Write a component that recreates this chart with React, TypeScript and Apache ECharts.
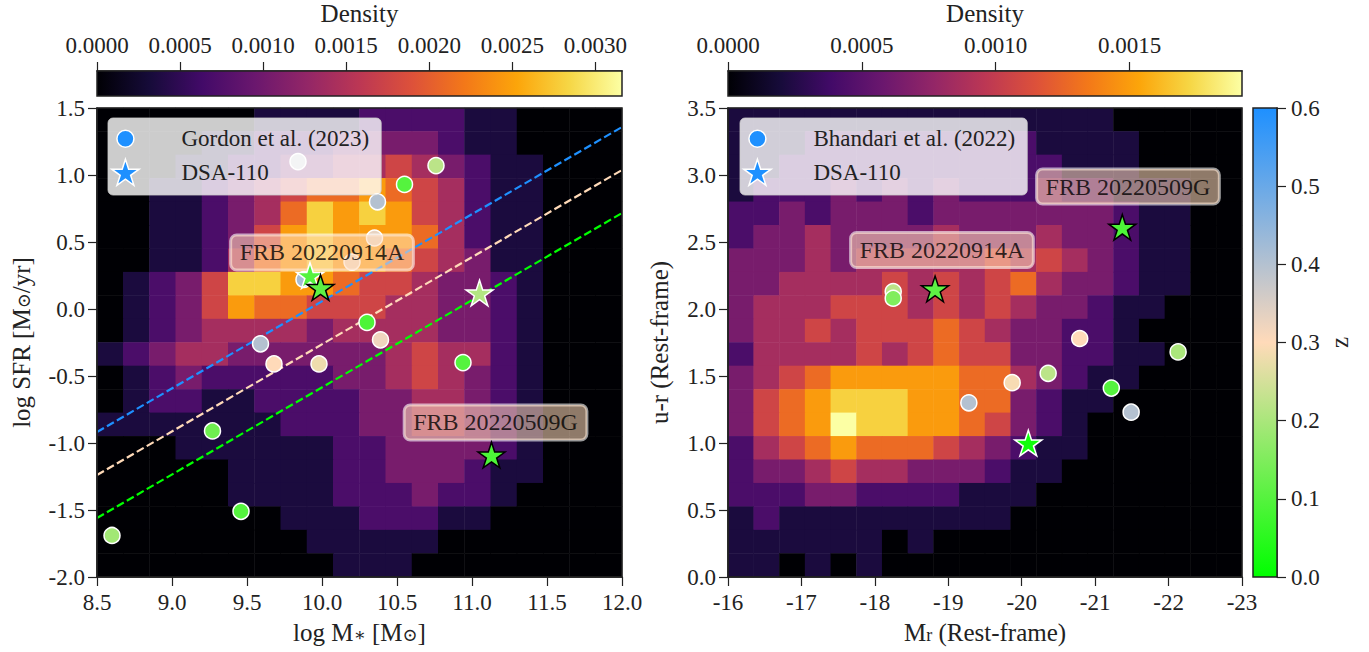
import { useEffect, useRef } from "react";
import * as echarts from "echarts";

const FONT = '"Liberation Serif", "Times New Roman", "DejaVu Serif", serif';
const INK = "#222222";

// ---------- colour maps ----------
const INFERNO = ["#000004", "#160b39", "#420a68", "#6a176e", "#932667", "#bc3754", "#dd513a", "#f37819", "#fca50a", "#f6d746", "#fcffa4"];
const Z_COLORS = ["#00ff00", "#ffdab9", "#1e90ff"];

// ---------- density grids (digit 0-9 = fraction of colour-bar max), rows top -> bottom ----------
const leftDensityMax = 0.00316;
const leftDensityRows = [
  "00000011112222110000",
  "00001122233332110000",
  "00011223344543211000",
  "00112345667654211000",
  "00112346878754211000",
  "00112357877764211000",
  "00112467877654311000",
  "01235887765543321000",
  "01235766555443321000",
  "01234444344443321000",
  "12344333333454421000",
  "01232222233454321000",
  "01221122223344321000",
  "11111112223344321000",
  "00011111122333321000",
  "00000111122333211000",
  "00000111122232210000",
  "00000001112221100000",
  "00000000111110000000",
  "00000000011100000000",
];

const rightDensityMax = 0.00192;
const rightDensityRows = [
  "11111111111111100000",
  "11122222222211110000",
  "11222222222221110000",
  "12223232322232211100",
  "22323332333333321100",
  "23343333433343321100",
  "33343444445454321100",
  "33444454545643321100",
  "34445554545433211000",
  "34454555654332210000",
  "24444545655332211000",
  "34567777766432110000",
  "35678887766321100000",
  "35679887765321000000",
  "24567666543211000000",
  "23345443332110000000",
  "22233222211100000000",
  "12111111111000000000",
  "11111101000000000000",
  "11010100000000000000",
];

// ---------- left panel: Gordon et al. (2023) ----------
const gordonMass = [9.84, 10.76, 10.55, 10.37, 10.35, 10.2, 9.88, 10.3, 9.59, 9.68, 9.98, 10.39, 10.94, 9.27, 9.46, 8.6];
const gordonSfr = [1.1, 1.07, 0.93, 0.8, 0.53, 0.35, 0.22, -0.1, -0.26, -0.41, -0.41, -0.23, -0.4, -0.91, -1.51, -1.69];
const gordonZ = [0.38, 0.22, 0.1, 0.4, 0.33, 0.32, 0.42, 0.09, 0.4, 0.3, 0.28, 0.32, 0.1, 0.13, 0.1, 0.19];

const dsaLeftMass = [9.92, 11.05, 9.99, 11.13];
const dsaLeftSfr = [0.25, 0.12, 0.16, -1.09];
const dsaLeftZ = [0.1, 0.21, 0.11, 0.09];
const dsaLeftHighlighted = [false, false, true, true];

// main-sequence lines (dashed)
const msLineMass = [8.5, 12.0];
const msLineBlue = [-0.918, 1.358];
const msLinePeach = [-1.239, 1.037];
const msLineGreen = [-1.56, 0.716];

// ---------- right panel: Bhandari et al. (2022) ----------
const bhandariMr = [-18.25, -18.25, -19.28, -19.87, -20.36, -20.79, -21.22, -21.49, -22.13];
const bhandariColor = [2.13, 2.08, 1.3, 1.45, 1.52, 1.78, 1.41, 1.23, 1.68];
const bhandariZ = [0.22, 0.15, 0.4, 0.29, 0.22, 0.3, 0.1, 0.4, 0.2];

const dsaRightMr = [-18.82, -21.37, -20.09];
const dsaRightColor = [2.15, 2.61, 1.0];
const dsaRightZ = [0.11, 0.09, 0.02];
const dsaRightHighlighted = [true, true, false];

// ---------- annotations ----------
const frbNames = ["FRB 20220914A", "FRB 20220509G"];
const leftLabelPos = [[10.0, 0.422], [11.157, -0.847]];
const rightLabelPos = [[-18.914, 2.44], [-21.447, 2.914]];

// ---------- tick values ----------
const leftDensityTicks = [0, 0.0005, 0.001, 0.0015, 0.002, 0.0025, 0.003];
const rightDensityTicks = [0, 0.0005, 0.001, 0.0015];

const STAR = "path://M0,-100L22.45,-30.9L95.1,-30.9L36.3,11.8L58.8,80.9L0,38.2L-58.8,80.9L-36.3,11.8L-95.1,-30.9L-22.45,-30.9Z";
const CIRCLE_ICON = "path://M-13 -13 M13 13 M0 -8.5 A8.5 8.5 0 1 1 0 8.5 A8.5 8.5 0 1 1 0 -8.5 Z";

function gridToHeat(rows: string[], max: number) {
  const n = rows.length;
  const out: number[][] = [];
  rows.forEach((row, r) => {
    for (let c = 0; c < row.length; c++) {
      out.push([c, n - 1 - r, (Number(row[c]) / 9) * max]);
    }
  });
  return out;
}

const cats = (n: number) => Array.from({ length: n }, (_, i) => String(i));

export default function App() {
  const ref = useRef<HTMLDivElement>(null);

  useEffect(() => {
    if (!ref.current) return;
    const chart = echarts.init(ref.current, null, { renderer: "svg" });

    const axisLine = { show: true, onZero: false, lineStyle: { color: INK, width: 1.5 } };
    const axisTick = { show: true, inside: false, length: 9, lineStyle: { color: INK, width: 1.2 } };
    const label = (margin: number, fmt: (v: number) => string) => ({
      fontFamily: FONT, fontSize: 23, color: INK, margin, formatter: fmt,
    });
    const nameStyle = {
      fontFamily: FONT, fontSize: 25, color: INK,
      rich: {
        n: { fontFamily: FONT, fontSize: 25, color: INK },
        s: { fontFamily: FONT, fontSize: 18, color: INK, padding: [0, 0, -4, 0] },
      },
    };

    const starData = (xs: number[], ys: number[], zs: number[], hl: boolean[]) =>
      xs.map((x, i) => ({
        value: [x, ys[i], zs[i]],
        itemStyle: { borderColor: hl[i] ? "#000000" : "#ffffff", borderWidth: 1.5 },
      }));

    const labelSeries = (xi: number, pos: number[][]) => ({
      type: "scatter",
      xAxisIndex: xi,
      yAxisIndex: xi,
      symbolSize: 0,
      silent: true,
      z: 4,
      data: pos.map((p, i) => ({ name: frbNames[i], value: p })),
      label: {
        show: true,
        position: "inside",
        formatter: "{b}",
        fontFamily: FONT,
        fontSize: 24,
        color: "#000000",
        backgroundColor: "rgba(255,218,185,0.7)",
        borderColor: "rgba(255,255,255,0.75)",
        borderWidth: 1.5,
        borderRadius: 6,
        padding: [6, 9, 5, 9],
      },
    });

    const legendCommon = {
      orient: "vertical",
      top: 118,
      itemWidth: 60,
      itemHeight: 26,
      itemGap: 6,
      selectedMode: false,
      symbolKeepAspect: true,
      backgroundColor: "rgba(255,255,255,0.8)",
      borderColor: "rgba(204,204,204,0.8)",
      borderWidth: 1,
      borderRadius: 5,
      padding: [7, 12, 9, 3],
      formatter: (name: string) => `{g|}${name}`,
      textStyle: { fontFamily: FONT, fontSize: 23, color: INK, rich: { g: { width: 21 } } },
      z: 20,
    };
    const iconStyle = { color: "#1e90ff", borderColor: "#ffffff", borderWidth: 1.5 };

    const option: any = {
      animation: false,
      backgroundColor: "#ffffff",
      textStyle: { fontFamily: FONT },
      grid: [
        { left: 97, top: 108, width: 525, height: 469 },
        { left: 728, top: 108, width: 514, height: 469 },
        { left: 97, top: 71, width: 525, height: 25 },
        { left: 728, top: 71, width: 514, height: 25 },
        { left: 1253, top: 108, width: 24, height: 469 },
      ],
      xAxis: [
        {
          gridIndex: 0, type: "value", min: 8.5, max: 12, interval: 0.5, z: 10,
          axisLine, axisTick, splitLine: { show: false },
          axisLabel: label(14, (v: number) => v.toFixed(1)),
          name: "{n|log M}{s|∗}{n| [M}{s|⊙}{n|]}", nameLocation: "middle", nameGap: 43, nameTextStyle: nameStyle,
        },
        {
          gridIndex: 1, type: "value", min: -23, max: -16, interval: 1, inverse: true, z: 10,
          axisLine, axisTick, splitLine: { show: false },
          axisLabel: label(14, (v: number) => String(v)),
          name: "{n|M}{s|r}{n| (Rest-frame)}", nameLocation: "middle", nameGap: 43, nameTextStyle: nameStyle,
        },
        { gridIndex: 0, type: "category", data: cats(20), show: false },
        { gridIndex: 1, type: "category", data: cats(20), show: false },
        {
          gridIndex: 2, type: "value", position: "top", min: 0, max: leftDensityMax, z: 10,
          axisLine, axisTick: { ...axisTick, customValues: leftDensityTicks }, splitLine: { show: false },
          axisLabel: { ...label(14, (v: number) => v.toFixed(4)), customValues: leftDensityTicks },
          name: "Density", nameLocation: "middle", nameGap: 45, nameTextStyle: nameStyle,
        },
        {
          gridIndex: 3, type: "value", position: "top", min: 0, max: rightDensityMax, z: 10,
          axisLine, axisTick: { ...axisTick, customValues: rightDensityTicks }, splitLine: { show: false },
          axisLabel: { ...label(14, (v: number) => v.toFixed(4)), customValues: rightDensityTicks },
          name: "Density", nameLocation: "middle", nameGap: 45, nameTextStyle: nameStyle,
        },
        { gridIndex: 4, type: "value", min: 0, max: 1, show: false },
      ],
      yAxis: [
        {
          gridIndex: 0, type: "value", min: -2, max: 1.5, interval: 0.5, z: 10,
          axisLine, axisTick, splitLine: { show: false },
          axisLabel: label(12, (v: number) => v.toFixed(1)),
          name: "{n|log SFR [M}{s|⊙}{n|/yr]}", nameLocation: "middle", nameGap: 63, nameTextStyle: nameStyle,
        },
        {
          gridIndex: 1, type: "value", min: 0, max: 3.5, interval: 0.5, z: 10,
          axisLine, axisTick, splitLine: { show: false },
          axisLabel: label(12, (v: number) => v.toFixed(1)),
          name: "u-r (Rest-frame)", nameLocation: "middle", nameGap: 56, nameTextStyle: nameStyle,
        },
        { gridIndex: 0, type: "category", data: cats(20), show: false },
        { gridIndex: 1, type: "category", data: cats(20), show: false },
        { gridIndex: 2, type: "value", show: false },
        { gridIndex: 3, type: "value", show: false },
        {
          gridIndex: 4, type: "value", position: "right", min: 0, max: 0.6, interval: 0.1, z: 10,
          axisLine, axisTick, splitLine: { show: false },
          axisLabel: label(14, (v: number) => v.toFixed(1)),
          name: "z", nameLocation: "middle", nameGap: 50, nameRotate: 90, nameTextStyle: nameStyle,
        },
      ],
      visualMap: [
        { type: "continuous", show: false, seriesIndex: 0, dimension: 2, min: 0, max: leftDensityMax, inRange: { color: INFERNO } },
        { type: "continuous", show: false, seriesIndex: 1, dimension: 2, min: 0, max: rightDensityMax, inRange: { color: INFERNO } },
        { type: "continuous", show: false, seriesIndex: [5, 6, 7, 8], dimension: 2, min: 0, max: 0.6, inRange: { color: Z_COLORS } },
      ],
      legend: [
        {
          ...legendCommon,
          left: 108,
          data: [
            { name: "Gordon et al. (2023)", icon: CIRCLE_ICON, itemStyle: iconStyle },
            { name: "DSA-110", icon: STAR, itemStyle: iconStyle },
          ],
        },
        {
          ...legendCommon,
          left: 740,
          data: [
            { name: "Bhandari et al. (2022)", icon: CIRCLE_ICON, itemStyle: iconStyle },
            { name: "DSA-110", icon: STAR, itemStyle: iconStyle },
          ],
        },
      ],
      series: [
        {
          type: "heatmap", xAxisIndex: 2, yAxisIndex: 2, z: 1, silent: true,
          data: gridToHeat(leftDensityRows, leftDensityMax), itemStyle: { borderWidth: 0 },
        },
        {
          type: "heatmap", xAxisIndex: 3, yAxisIndex: 3, z: 1, silent: true,
          data: gridToHeat(rightDensityRows, rightDensityMax), itemStyle: { borderWidth: 0 },
        },
        {
          type: "line", xAxisIndex: 0, yAxisIndex: 0, symbol: "none", z: 2, silent: true,
          data: msLineMass.map((m, i) => [m, msLineBlue[i]]),
          lineStyle: { color: "#1e90ff", width: 2.2, type: [8, 3.5] },
        },
        {
          type: "line", xAxisIndex: 0, yAxisIndex: 0, symbol: "none", z: 2, silent: true,
          data: msLineMass.map((m, i) => [m, msLinePeach[i]]),
          lineStyle: { color: "#ffdab9", width: 2.2, type: [8, 3.5] },
        },
        {
          type: "line", xAxisIndex: 0, yAxisIndex: 0, symbol: "none", z: 2, silent: true,
          data: msLineMass.map((m, i) => [m, msLineGreen[i]]),
          lineStyle: { color: "#00ff00", width: 2.2, type: [8, 3.5] },
        },
        {
          type: "scatter", name: "Gordon et al. (2023)", xAxisIndex: 0, yAxisIndex: 0, z: 3,
          symbol: "circle", symbolSize: 16,
          itemStyle: { borderColor: "#ffffff", borderWidth: 1.5, opacity: 1 },
          data: gordonMass.map((m, i) => [m, gordonSfr[i], gordonZ[i]]),
        },
        {
          type: "scatter", name: "DSA-110", xAxisIndex: 0, yAxisIndex: 0, z: 5,
          symbol: STAR, symbolSize: 27, symbolKeepAspect: true,
          itemStyle: { opacity: 1 },
          data: starData(dsaLeftMass, dsaLeftSfr, dsaLeftZ, dsaLeftHighlighted),
        },
        {
          type: "scatter", name: "Bhandari et al. (2022)", xAxisIndex: 1, yAxisIndex: 1, z: 3,
          symbol: "circle", symbolSize: 16,
          itemStyle: { borderColor: "#ffffff", borderWidth: 1.5, opacity: 1 },
          data: bhandariMr.map((m, i) => [m, bhandariColor[i], bhandariZ[i]]),
        },
        {
          type: "scatter", name: "DSA-110", xAxisIndex: 1, yAxisIndex: 1, z: 5,
          symbol: STAR, symbolSize: 27, symbolKeepAspect: true,
          itemStyle: { opacity: 1 },
          data: starData(dsaRightMr, dsaRightColor, dsaRightZ, dsaRightHighlighted),
        },
        labelSeries(0, leftLabelPos),
        labelSeries(1, rightLabelPos),
      ],
      graphic: [
        {
          type: "rect", z: 50, silent: true,
          shape: { x: 97, y: 71, width: 525, height: 25 },
          style: {
            fill: new echarts.graphic.LinearGradient(0, 0, 1, 0, INFERNO.map((c, i) => ({ offset: i / 10, color: c }))),
            stroke: INK, lineWidth: 1.5,
          },
        },
        {
          type: "rect", z: 50, silent: true,
          shape: { x: 728, y: 71, width: 514, height: 25 },
          style: {
            fill: new echarts.graphic.LinearGradient(0, 0, 1, 0, INFERNO.map((c, i) => ({ offset: i / 10, color: c }))),
            stroke: INK, lineWidth: 1.5,
          },
        },
        {
          type: "rect", z: 50, silent: true,
          shape: { x: 1253, y: 108, width: 24, height: 469 },
          style: {
            fill: new echarts.graphic.LinearGradient(0, 1, 0, 0, Z_COLORS.map((c, i) => ({ offset: i / 2, color: c }))),
            stroke: INK, lineWidth: 1.5,
          },
        },
        {
          type: "rect", z: 50, silent: true,
          shape: { x: 97, y: 108, width: 525, height: 469 },
          style: { fill: "none", stroke: INK, lineWidth: 1.5 },
        },
        {
          type: "rect", z: 50, silent: true,
          shape: { x: 728, y: 108, width: 514, height: 469 },
          style: { fill: "none", stroke: INK, lineWidth: 1.5 },
        },
      ],
    };

    chart.setOption(option);
    return () => chart.dispose();
  }, []);

  return (
    <div
      ref={ref}
      style={{ position: "fixed", left: 0, top: 0, width: 1369, height: 652, background: "#ffffff" }}
    />
  );
}
